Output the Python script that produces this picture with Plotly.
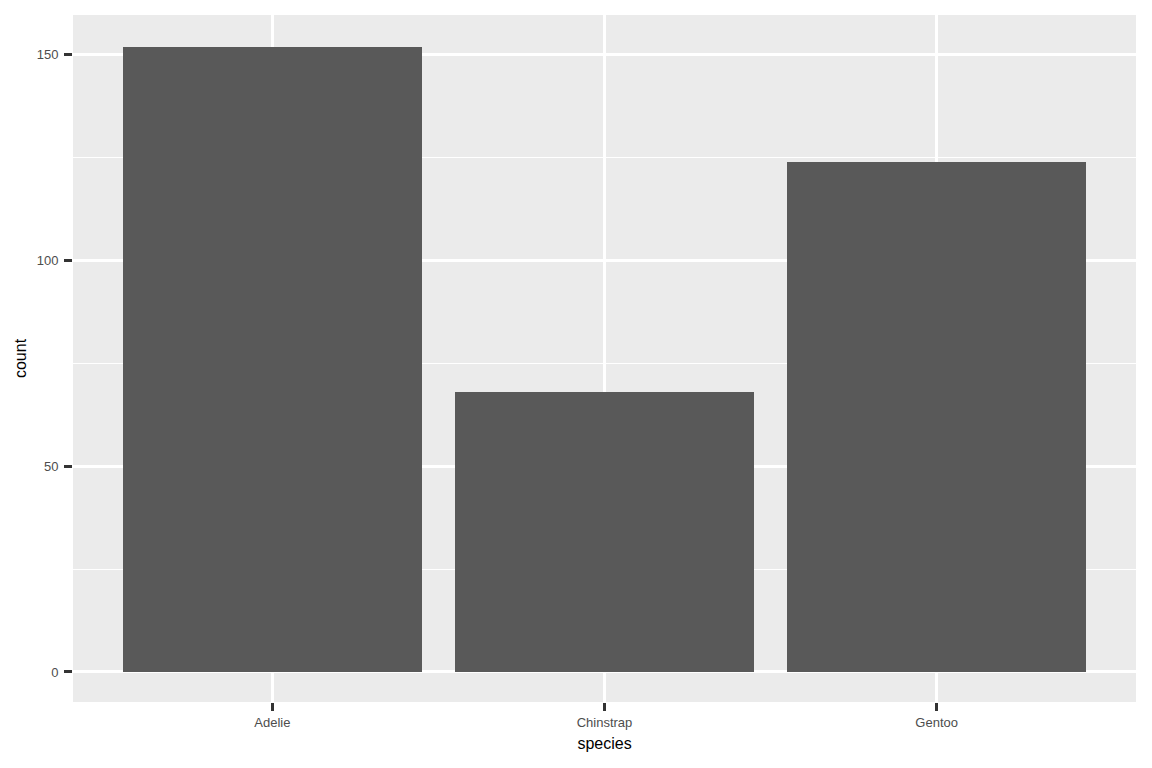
import plotly.graph_objects as go

species = ["Adelie", "Chinstrap", "Gentoo"]
counts = [152, 68, 124]

fig = go.Figure()
fig.add_trace(go.Bar(
    x=species,
    y=counts,
    width=0.9,
    marker=dict(color="#595959", line=dict(width=0)),
))

# page has an 8px body margin, so shrink the figure to keep the panel in place
fig.update_layout(
    width=1144,
    height=760,
    margin=dict(l=65, r=16, t=7, b=66),
    paper_bgcolor="white",
    plot_bgcolor="#EBEBEB",
    font=dict(family="Liberation Sans, Arial, sans-serif", color="black"),
    showlegend=False,
    bargap=0,
)

fig.update_xaxes(
    title=dict(text="species", font=dict(size=16, color="black"), standoff=9),
    range=[-0.6, 2.6],
    showgrid=True, gridcolor="white", gridwidth=2.5,
    ticks="outside", ticklen=8, tickwidth=2.5, tickcolor="#333333",
    tickfont=dict(size=13, color="#4D4D4D"),
    zeroline=False, showline=False,
)

fig.update_yaxes(
    title=dict(text="count", font=dict(size=16, color="black"), standoff=6),
    range=[-7.3, 159.7],
    tickvals=[0, 50, 100, 150],
    showgrid=True, gridcolor="white", gridwidth=2.5,
    minor=dict(tickvals=[25, 75, 125], showgrid=True, gridcolor="white", gridwidth=1.2, ticks=""),
    ticks="outside", ticklen=8, tickwidth=2.5, tickcolor="#333333",
    tickfont=dict(size=13, color="#4D4D4D"),
    ticklabelstandoff=3,
    zeroline=False, showline=False,
)

fig.write_html("out.html")
